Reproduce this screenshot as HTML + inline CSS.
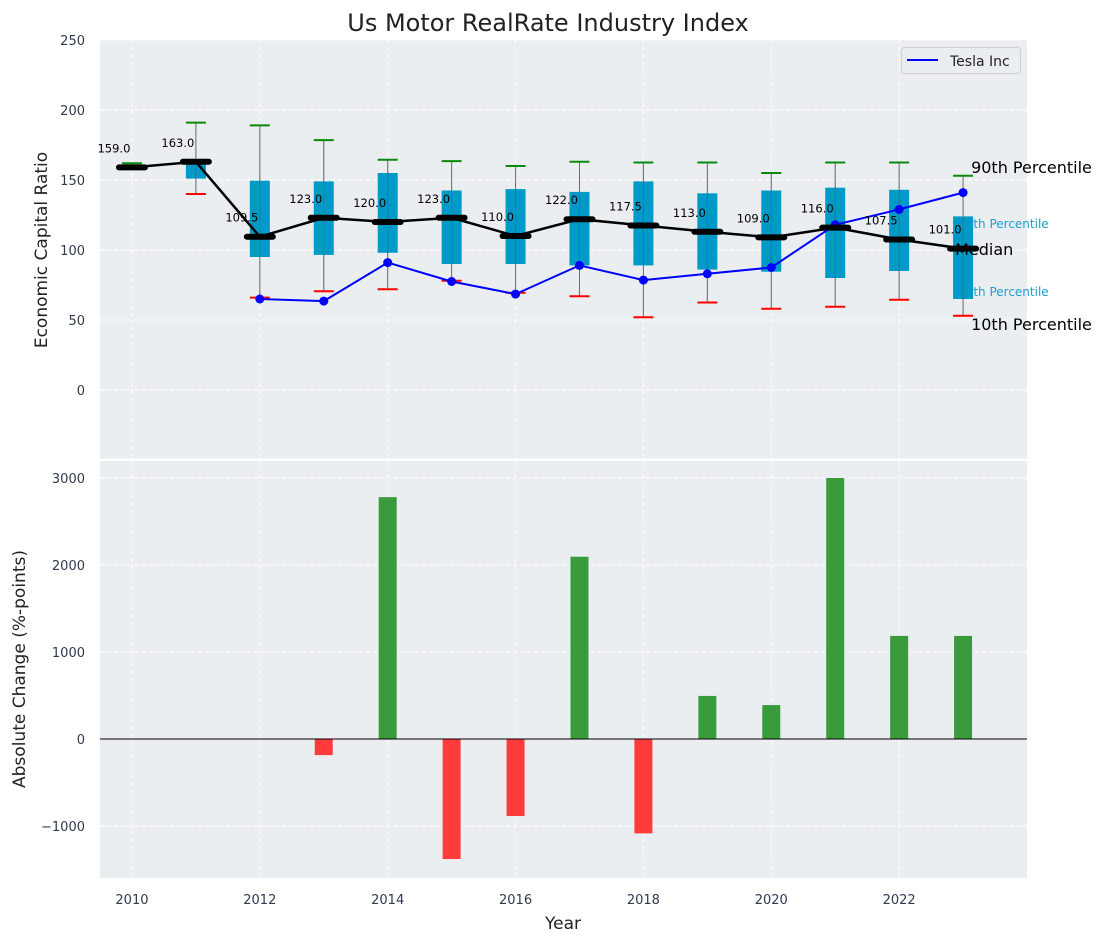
<!DOCTYPE html>
<html><head><meta charset="utf-8"><style>
body{margin:0;background:#fff;}
svg{display:block;font-family:"DejaVu Sans","Liberation Sans",sans-serif;}
</style></head><body>
<svg id="chart" width="1107" height="942" viewBox="0 0 1107 942" xmlns="http://www.w3.org/2000/svg"></svg>
<script>
const years=[2010,2011,2012,2013,2014,2015,2016,2017,2018,2019,2020,2021,2022,2023];
const medians=[159,163,109.5,123,120,123,110,122,117.5,113,109,116,107.5,101];
const q25=[159,151,95,96.5,98,90,90,89,89,86,84.5,80,85,65];
const q75=[159,163,149.5,149,155,142.5,143.5,141.5,149,140.5,142.5,144.5,143,124];
const p10=[159,140,66,70.5,72,78,69.5,67,52,62.5,58,59.5,64.5,53];
const p90=[162,191,189,178.5,164.5,163.5,160,163,162.5,162.5,155,162.5,162.5,153];
const teslaYears=[2012,2013,2014,2015,2016,2017,2018,2019,2020,2021,2022,2023];
const teslaVals=[65,63.5,91,77.5,68.5,89,78.5,83,87.5,118,129,141];
const changeYears=[2013,2014,2015,2016,2017,2018,2019,2020,2021,2022,2023];
const changeVals=[-185,2780,-1380,-885,2095,-1085,495,390,3000,1185,1185];
const xTicks=[2010,2012,2014,2016,2018,2020,2022];
const yTicksTop=[0,50,100,150,200,250];
const yTicksBot=[-1000,0,1000,2000,3000];

const NS="http://www.w3.org/2000/svg";
const svg=document.getElementById('chart');
function el(t,a,p){const e=document.createElementNS(NS,t);for(const k in a)e.setAttribute(k,a[k]);(p||svg).appendChild(e);return e;}
const L=100,R=1027;
const x=v=>L+(v-2009.5)*(R-L)/(2024-2009.5);
const yT=v=>390-1.4*v;
const yB=v=>739-0.087*v;
const TOP0=40,TOP1=460,BOT0=460,BOT1=878;

let bg=el('rect',{x:L,y:TOP0,width:R-L,height:TOP1-TOP0,fill:'#eaeef0'});

let bg2=el('rect',{x:L,y:BOT0+1,width:R-L,height:BOT1-BOT0-1,fill:'#eaeef0'});

el('line',{x1:L,x2:R,y1:459.5,y2:459.5,stroke:'#fff','stroke-width':2});

const g=el('g',{stroke:'#fff','stroke-dasharray':'4,3','stroke-width':1});

xTicks.forEach(t=>{el('line',{x1:x(t),x2:x(t),y1:TOP0,y2:TOP1},g);el('line',{x1:x(t),x2:x(t),y1:BOT0,y2:BOT1},g);});
yTicksTop.forEach(t=>el('line',{x1:L,x2:R,y1:yT(t),y2:yT(t)},g));
yTicksBot.forEach(t=>el('line',{x1:L,x2:R,y1:yB(t),y2:yB(t)},g));

const tc='#2e3b4e';
yTicksTop.forEach(t=>{const e=el('text',{x:85,y:yT(t)+5,'text-anchor':'end','font-size':13,fill:tc});e.textContent=t;});
yTicksBot.forEach(t=>{const e=el('text',{x:85,y:yB(t)+5,'text-anchor':'end','font-size':13,fill:tc});e.textContent=(t<0?'\u2212'+(-t):t);});
xTicks.forEach(t=>{const e=el('text',{x:x(t),y:904,'text-anchor':'middle','font-size':13,fill:tc});e.textContent=t;});

let tt=el('text',{x:548,y:31,'text-anchor':'middle','font-size':24,fill:'#222'});tt.textContent='Us Motor RealRate Industry Index';

let ya=el('text',{x:0,y:0,'text-anchor':'middle','font-size':17,fill:'#222',transform:'translate(47,250) rotate(-90)'});ya.textContent='Economic Capital Ratio';

let yb=el('text',{x:0,y:0,'text-anchor':'middle','font-size':17,fill:'#222',transform:'translate(25,669) rotate(-90)'});yb.textContent='Absolute Change (%-points)';

let xa=el('text',{x:563,y:929,'text-anchor':'middle','font-size':17,fill:'#222'});xa.textContent='Year';


const lx=x(2023);
function lab(t,xx,yy,fs,col,name){const e=el('text',{x:xx,y:yy,'font-size':fs,fill:col});e.textContent=t;}
lab('75th Percentile',lx-5,228,12,'#1a9fd0','label-75th');
lab('25th Percentile',lx-5,296,12,'#1a9fd0','label-25th');

years.forEach((yr,i)=>{
  const cx=x(yr);
  const w=el('line',{x1:cx,x2:cx,y1:yT(p10[i]),y2:yT(p90[i]),stroke:'#888','stroke-width':1});
  
  if(q75[i]>q25[i]){const b=el('rect',{x:cx-10,y:yT(q75[i]),width:20,height:yT(q25[i])-yT(q75[i]),fill:'#009ac9'});
  }
  el('line',{x1:cx,x2:cx,y1:yT(p10[i]),y2:yT(p90[i]),stroke:'#555','stroke-width':1,'stroke-opacity':0.5});
  const gc=el('line',{x1:cx-10,x2:cx+10,y1:yT(p90[i]),y2:yT(p90[i]),stroke:'#0a8a0a','stroke-width':2});
  
  const rc=el('line',{x1:cx-10,x2:cx+10,y1:yT(p10[i]),y2:yT(p10[i]),stroke:'#ff0000','stroke-width':2});
  
});
lab('90th Percentile',lx+8,173,16,'#000','label-90th');
lab('Median',lx-8,255,16,'#000','label-median');
lab('10th Percentile',lx+8,330,16,'#000','label-10th');

let tp=teslaYears.map((yr,i)=>x(yr)+','+yT(teslaVals[i])).join(' ');
let tl=el('polyline',{points:tp,fill:'none',stroke:'#0000ff','stroke-width':2});

teslaYears.forEach((yr,i)=>{const c=el('circle',{cx:x(yr),cy:yT(teslaVals[i]),r:4.5,fill:'#0000ff'});});

let mp=years.map((yr,i)=>x(yr)+','+yT(medians[i])).join(' ');
let ml=el('polyline',{points:mp,fill:'none',stroke:'#000','stroke-width':2.5});

years.forEach((yr,i)=>{
  const m=el('line',{x1:x(yr)-13,x2:x(yr)+13,y1:yT(medians[i]),y2:yT(medians[i]),stroke:'#000','stroke-width':6,'stroke-linecap':'round'});
  
  const t=el('text',{x:x(yr)-18,y:yT(medians[i])-15,'text-anchor':'middle','font-size':11.5,fill:'#000'});
  t.textContent=medians[i].toFixed(1);
});

const lg=el('g',{});
el('rect',{x:901.5,y:47.5,width:119,height:26,rx:3,fill:'#eaeef0',stroke:'#d0d0d0'},lg);
el('line',{x1:907,x2:938,y1:60,y2:60,stroke:'#0000ff','stroke-width':2},lg);
const lt=el('text',{x:950,y:66,'font-size':14,fill:'#222'},lg);lt.textContent='Tesla Inc';

changeYears.forEach((yr,i)=>{
  const v=changeVals[i];const y0=yB(0),y1=yB(v);
  const b=el('rect',{x:x(yr)-9,y:Math.min(y0,y1),width:18,height:Math.abs(y1-y0),fill:v>=0?'#3a9b3c':'#ff3b3b'});
  
});
let zl=el('line',{x1:L,x2:R,y1:yB(0),y2:yB(0),stroke:'#000','stroke-width':1});

</script>
</body></html>
